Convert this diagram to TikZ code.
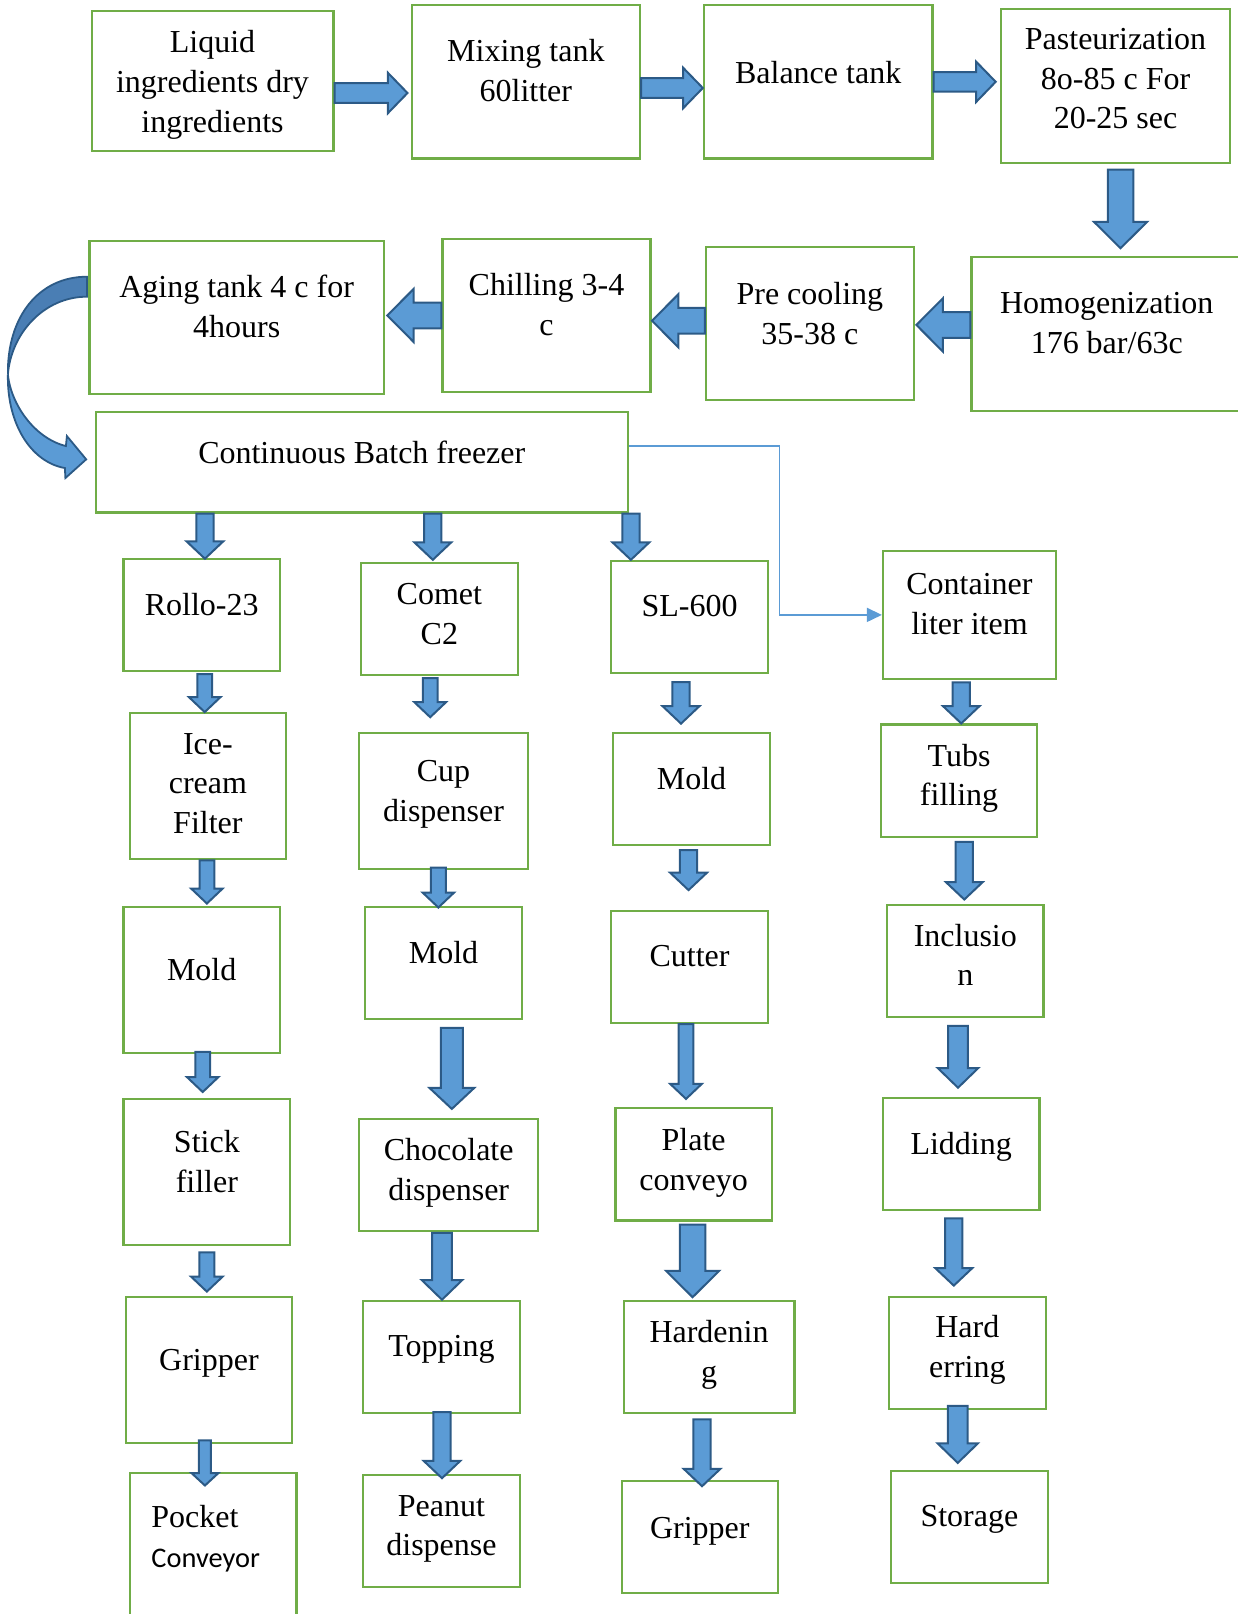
\documentclass[tikz,border=0pt]{standalone}
\usepackage{fontspec}
\setmainfont{Liberation Serif}
\newfontfamily\calibrifont{Carlito}
\usepackage{tikz}
\usetikzlibrary{calc, arrows.meta, positioning}
\definecolor{boxgreen}{HTML}{70AD47}
\definecolor{arrowblue}{HTML}{5B9BD5}
\definecolor{arrowedge}{HTML}{2C5A86}
\definecolor{bandblue}{HTML}{4A7EB4}
\tikzset{
    stage/.style = {draw=boxgreen, line width=1.1pt, inner sep=0pt}, % the process boxes
    stagetext/.style = {inner sep=0pt, align=center, text depth=0pt, font=\fontsize{16}{19.8}\selectfont},
    flowarrow/.style = {draw=arrowedge, fill=arrowblue, line width=1pt, line join=miter},
    % shaft half width, head half width, head length of the block arrows
    tinyarrow/.code = {\def\arrowsw{3pt}\def\arrowhw{6.7pt}\def\arrowhl{6.2pt}},
    slimarrow/.code = {\def\arrowsw{3.7pt}\def\arrowhw{7.9pt}\def\arrowhl{7.5pt}},
    thinarrow/.code = {\def\arrowsw{4.3pt}\def\arrowhw{9.2pt}\def\arrowhl{8.7pt}},
    midarrow/.code = {\def\arrowsw{4.9pt}\def\arrowhw{10.1pt}\def\arrowhl{9.8pt}},
    bigarrow/.code = {\def\arrowsw{5.5pt}\def\arrowhw{11.2pt}\def\arrowhl{10.5pt}},
    fatarrow/.code = {\def\arrowsw{6.4pt}\def\arrowhw{13.3pt}\def\arrowhl{13.2pt}},
    feedline/.style = {draw=arrowblue, line width=0.8pt, -{Triangle[length=7.5pt,width=7pt]}},
}
% box: name, left, top, right, bottom, text lift, text
\newcommand{\stagebox}[8][]{%
  \node[stage, minimum width={(#5-#3)*0.5pt}, minimum height={(#6-#4)*0.5pt}] (#2) at ({(#3+#5)/2},{(#4+#6)/2}) {};
  \node[stagetext, #1] (#2-text) at ([yshift={#7*0.5pt}]#2.center) {#8};}
% block arrow from tail to tip
\newcommand{\blockarrow}[3][thinarrow]{%
  \begin{scope}[#1]
    \coordinate (ba-s) at (#2);
    \coordinate (ba-e) at (#3);
    \coordinate (ba-n) at ($(ba-e)!\arrowhl!(ba-s)$);
    \filldraw[flowarrow] ($(ba-s)!\arrowsw!90:(ba-e)$) -- ($(ba-n)!\arrowsw!90:(ba-e)$)
      -- ($(ba-n)!\arrowhw!90:(ba-e)$) -- (ba-e) -- ($(ba-n)!\arrowhw!-90:(ba-e)$)
      -- ($(ba-n)!\arrowsw!-90:(ba-e)$) -- ($(ba-s)!\arrowsw!-90:(ba-e)$) -- cycle;
  \end{scope}}

\begin{document}
\begin{tikzpicture}[x=0.5pt, y=-0.5pt]
\useasboundingbox (0,0) rectangle (1238,1614);

% mix preparation
\stagebox{liquid}{91.6}{11.3}{333.4}{151.3}{0}{Liquid\\ingredients dry\\ingredients}
\stagebox{mixing}{411.6}{5.1}{640.1}{158.5}{11.3}{Mixing tank\\60litter}
\stagebox{balance}{703.9}{5.1}{932.4}{158.5}{9.8}{Balance tank}
\stagebox{past}{1001.3}{9.3}{1229.8}{162.6}{7.2}{Pasteurization\\8o-85 c For\\20-25 sec}
\stagebox{homog}{971.5}{257.3}{1242}{410.6}{11.3}{Homogenization\\176 bar/63c}
\stagebox{precool}{706}{247}{913.8}{400.3}{10.3}{Pre cooling\\35-38 c}
\stagebox{chill}{442.5}{238.8}{650.4}{392.1}{10.8}{Chilling 3-4\\c}
\stagebox{aging}{89.5}{240.8}{383.9}{394.1}{11.3}{Aging tank 4 c for\\4hours}
\stagebox{freezer}{95.7}{411.6}{627.8}{512.5}{10.3}{Continuous Batch freezer}

% Rollo-23 line
\stagebox{rollo}{123.5}{558.8}{279.9}{671}{10.8}{Rollo-23}
\stagebox{icecream}{129.7}{713.2}{286.1}{859.3}{3.1}{Ice-\\cream\\Filter}
\stagebox{moldA}{123.5}{906.6}{279.9}{1052.8}{10.3}{Mold}
\stagebox{stick}{123.5}{1099.1}{290.2}{1245.2}{10.8}{Stick\\filler}
\stagebox{gripperA}{125.6}{1296.7}{292.3}{1442.8}{10.3}{Gripper}
\stagebox[anchor=west, align=left, xshift=-31pt]{pocket}{129.7}{1472.6}{296.4}{1620}{10}{Pocket\\{\calibrifont\fontsize{14.2}{19.8}\selectfont Conveyor}}

% Comet C2 line
\stagebox{comet}{361.2}{562.9}{517.6}{675.1}{5.1}{Comet\\C2}
\stagebox{cup}{359.2}{732.7}{527.9}{868.6}{9.8}{Cup\\dispenser}
\stagebox{moldB}{365.3}{906.6}{521.8}{1018.8}{10.8}{Mold}
\stagebox{choc}{359.2}{1118.6}{538.2}{1230.8}{5.1}{Chocolate\\dispenser}
\stagebox{topping}{363.3}{1300.8}{519.7}{1412.9}{10.8}{Topping}
\stagebox{peanut}{363.3}{1474.7}{519.7}{1586.9}{5.1}{Peanut\\dispense}

% SL-600 line
\stagebox{sl}{611.3}{560.9}{767.7}{673}{10.8}{SL-600}
\stagebox{moldC}{613.3}{732.7}{769.8}{844.9}{10.8}{Mold}
\stagebox{cutter}{611.3}{910.8}{767.7}{1022.9}{10.8}{Cutter}
\stagebox{plate}{615.4}{1108.3}{771.8}{1220.5}{5.1}{Plate\\conveyo}
\stagebox{harden}{623.6}{1300.8}{794.5}{1412.9}{5.7}{Hardenin\\g}
\stagebox{gripperC}{621.6}{1480.9}{778}{1593}{9}{Gripper}

% container line
\stagebox{container}{883}{550.6}{1055.9}{679.2}{11.3}{Container\\liter item}
\stagebox{tubs}{880.9}{724.5}{1037.3}{836.7}{5.7}{Tubs\\filling}
\stagebox{incl}{887.1}{904.6}{1043.5}{1016.8}{5.7}{Inclusio\\n}
\stagebox{lidding}{883}{1098.1}{1039.4}{1210.2}{10.8}{Lidding}
\stagebox{hard}{889.1}{1296.7}{1045.6}{1408.8}{6.2}{Hard\\erring}
\stagebox{storage}{891.2}{1470.6}{1047.6}{1582.8}{10.8}{Storage}

% arrows of the mix line
\blockarrow[midarrow]{$(liquid.east)+(0,11.7)$}{$(mixing.west |- liquid.east)+(-3,11.7)$}
\blockarrow[midarrow]{$(mixing.east)+(0,6.2)$}{$(balance.west |- mixing.east)+(0,6.2)$}
\blockarrow[midarrow]{balance.east}{$(past.west |- balance.east)+(-4.5,0)$}
\blockarrow[fatarrow]{$(past.south)+(5,6)$}{$(past.south |- homog.north)+(5,-8)$}
\blockarrow[fatarrow]{$(homog.west)+(0,-9)$}{$(precool.east |- homog.west)+(1.5,-9)$}
\blockarrow[fatarrow]{$(precool.west)+(0,-2.9)$}{$(chill.east |- precool.west)+(0.5,-2.9)$}
\blockarrow[fatarrow]{chill.west}{$(aging.east |- chill.west)+(2.3,0)$}

% curved arrow from aging tank to freezer
\coordinate (ag) at (aging.north west);
\coordinate (fz) at (freezer.west);
\filldraw[draw=arrowedge, fill=bandblue, line width=0.9pt] ($(ag)+(-1.5,37)$) .. controls +(-48,0) and +(-1,-58) .. ($(ag)+(-80.5,135)$)
  .. controls +(3,-41) and +(-43,0) .. ($(ag)+(-1.5,57)$) -- cycle;
\filldraw[flowarrow, line width=0.9pt] ($(ag)+(-80.5,135)$) .. controls +(-1,49) and +(-34,-6) .. ($(fz)+(-29.7,6)$)
  -- ($(fz)+(-29.2,16)$) -- ($(fz)+(-8.4,-2.7)$) -- ($(fz)+(-27.7,-26)$) -- ($(fz)+(-28.7,-16)$)
  .. controls +(-32,-8) and +(3,29) .. ($(ag)+(-80.5,135)$) -- cycle;

% freezer outputs
\blockarrow[thinarrow]{$(freezer.south -| rollo.north)+(3.2,0)$}{$(rollo.north)+(3.2,1)$}
\blockarrow[thinarrow]{$(freezer.south -| comet.north)+(-6.6,0)$}{$(comet.north)+(-6.6,-2)$}
\blockarrow[thinarrow]{$(freezer.south east)+(2,0)$}{$(freezer.south east |- sl.north)+(2,0)$}
\draw[feedline] ($(freezer.east)+(0,-16.3)$) -- ++(150.5,0) |- (container.west);

% arrows down the lines
\blockarrow[slimarrow]{$(rollo.south)+(3,2)$}{$(rollo.south |- icecream.north)+(3,0)$}
\blockarrow[slimarrow]{$(icecream.south)+(-1,0)$}{$(icecream.south |- moldA.north)+(-1,-2)$}
\blockarrow[slimarrow]{$(moldA.south)+(1,-2)$}{$(moldA.south |- stick.north)+(1,-6)$}
\blockarrow[slimarrow]{$(stick.south)+(0,6)$}{$(stick.south |- gripperA.north)+(0,-4)$}
\blockarrow[tinyarrow]{$(gripperA.south)+(-4,-3.5)$}{$(gripperA.south |- pocket.north)+(-4,14)$}

\blockarrow[slimarrow]{$(comet.south)+(-9.2,2)$}{$(comet.south |- cup.north)+(-9.2,-14.4)$}
\blockarrow[slimarrow]{$(cup.south)+(-5.2,-2)$}{$(cup.south |- moldB.north)+(-5.2,2)$}
\blockarrow[bigarrow]{$(moldB.south)+(8.3,8)$}{$(moldB.south |- choc.north)+(8.3,-8.6)$}
\blockarrow[midarrow]{$(choc.south)+(-6.7,1)$}{$(choc.south |- topping.north)+(-6.7,0)$}
\blockarrow[thinarrow]{$(topping.south)+(0.5,-2)$}{$(topping.south |- peanut.north)+(0.5,4.6)$}

\blockarrow[thinarrow]{$(sl.south)+(-8.5,8)$}{$(sl.south |- moldC.north)+(-8.5,-8)$}
\blockarrow[thinarrow]{$(moldC.south)+(-3,4)$}{$(moldC.south |- cutter.north)+(-3,-19.6)$}
\blockarrow[slimarrow]{$(cutter.south)+(-3.5,0)$}{$(cutter.south |- plate.north)+(-3.5,-8.3)$}
\blockarrow[fatarrow]{$(plate.south)+(-1,3)$}{$(plate.south |- harden.north)+(-1,-2.5)$}
\blockarrow[thinarrow]{$(harden.south)+(-7,5.4)$}{$(harden.south |- gripperC.north)+(-7,6.4)$}

\blockarrow[thinarrow]{$(container.south)+(-8.2,2)$}{$(container.south |- tubs.north)+(-8.2,0)$}
\blockarrow[thinarrow]{$(tubs.south)+(5.2,4)$}{$(tubs.south |- incl.north)+(5.2,-4)$}
\blockarrow[midarrow]{$(incl.south)+(-7.3,8)$}{$(incl.south |- lidding.north)+(-7.3,-9.3)$}
\blockarrow[thinarrow]{$(lidding.south)+(-7.4,7)$}{$(lidding.south |- hard.north)+(-7.4,-10)$}
\blockarrow[midarrow]{$(hard.south)+(-9.6,-4)$}{$(hard.south |- storage.north)+(-9.6,-6.6)$}
\end{tikzpicture}
\end{document}
